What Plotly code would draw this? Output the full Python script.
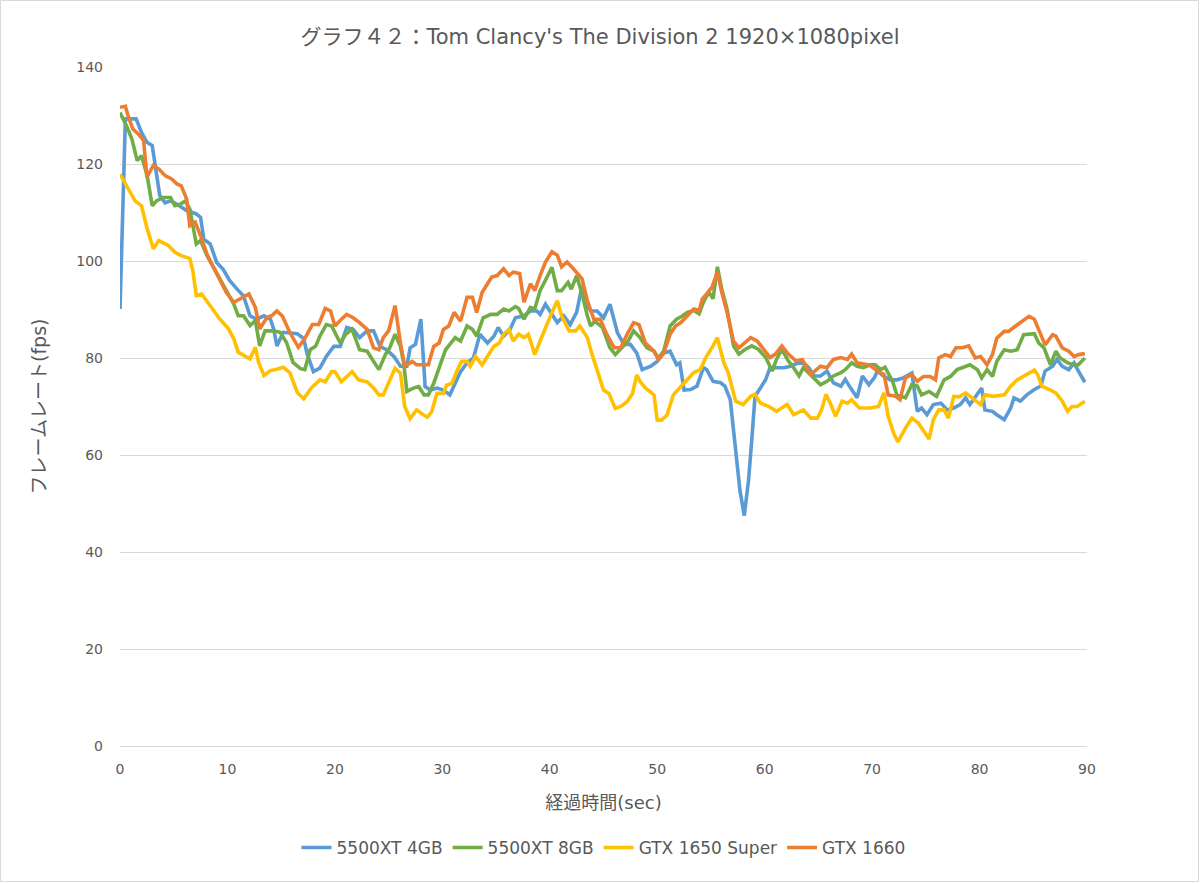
import plotly.graph_objects as go

# ---- data (time in sec, frame rate in fps) ----
t_4gb = [0, 0.5, 1.5, 2, 2.5, 3, 3.7, 4.2, 4.7, 5.3, 6.2, 7.1, 7.5, 7.8, 8.4, 9, 9.6, 10.2, 10.9, 11.5,
         12.1, 12.7, 13.4, 14, 14.3, 14.6, 15.2, 16.5, 17.1, 17.4, 18, 18.6, 19.2, 19.9, 20.5, 21.1, 21.7,
         22.3, 23, 23.6, 24.2, 24.8, 25.5, 26.1, 26.7, 27, 27.5, 28, 28.4, 28.9, 29.5, 30.1, 30.7, 31.2,
         31.7, 32.3, 32.9, 33.5, 34.2, 34.8, 35.2, 35.7, 36.3, 36.8, 37.6, 38.2, 38.8, 39.1, 39.6, 40,
         40.7, 41.3, 41.9, 42.5, 43, 43.5, 43.8, 44.4, 45, 45.6, 46.3, 46.9, 47.5, 48.1, 48.6, 49.4, 50,
         50.6, 51.2, 51.8, 52.1, 52.5, 53.1, 53.7, 54.3, 54.6, 55.2, 55.9, 56.3, 56.8, 57.3, 57.7, 58.1,
         58.5, 58.8, 59.1, 59.6, 60.1, 60.5, 61.1, 61.8, 62.4, 63, 63.6, 64.1, 64.6, 65.2, 65.8, 66.4,
         67.1, 67.5, 68, 68.6, 69.1, 69.7, 70.2, 70.5, 71.1, 71.7, 72.3, 72.9, 73.7, 74.2, 74.6, 75.1,
         75.7, 76.4, 77, 77.6, 78.2, 78.7, 79.1, 79.8, 80.2, 80.5, 81.2, 81.6, 82.3, 82.9, 83.2, 83.8,
         84.4, 85.1, 85.7, 86.1, 86.8, 87.2, 87.7, 88.3, 88.8, 89.2, 89.8]
v_4gb = [90.1, 129.3, 129.3, 126.5, 124.5, 123.8, 113.5, 112, 112.4, 111.7, 110.4, 109.7, 109, 104.5,
         103.5, 99.7, 98.3, 96, 94.2, 92.8, 88.7, 88, 88.7, 88, 86, 82.5, 85.3, 85, 84, 81, 77.2, 77.9,
         80.3, 82.4, 82.4, 86.3, 85.9, 84.2, 85.6, 85.6, 82.4, 81.7, 80.3, 78.3, 78.3, 82.1, 82.8, 88,
         74.1, 73.4, 73.8, 73.4, 72.4, 74.8, 77.2, 79, 80, 84.9, 83.1, 84.5, 86.3, 84.5, 85.9, 88.3, 88.7,
         89.7, 89.7, 89, 91.1, 89.7, 87.3, 88.7, 86.9, 89.4, 94.9, 90.8, 89.7, 89.7, 88.3, 91.1, 85.2,
         82.8, 82.8, 81, 77.6, 78.3, 79.3, 81, 81.4, 78.6, 79, 73.4, 73.5, 74.2, 78, 77.6, 75.2, 74.9,
         74.2, 71.4, 61.7, 52.7, 47.5, 54.8, 63.1, 72.1, 73.8, 75.6, 78, 78, 78, 78.3, 78.9, 79, 78,
         76.3, 76.3, 77.3, 74.9, 74.2, 75.6, 73.8, 71.8, 76.3, 74.5, 75.9, 77.3, 76.2, 75.5, 75.5, 75.9,
         76.9, 69, 69.7, 68.3, 70.4, 70.7, 69.3, 69.7, 70.4, 71.8, 70.4, 72.4, 73.8, 69.3, 69, 68.3,
         67.3, 69.7, 71.8, 71.1, 72.4, 73.5, 74.2, 77.3, 78.3, 79.7, 78.3, 77.6, 79, 77.3, 75]

t_8gb = [0, 0.6, 1.1, 1.6, 2, 2.5, 3, 3.4, 4, 4.7, 5.1, 5.6, 6.1, 6.5, 7.1, 7.5, 8.1, 8.7, 9.3, 9.9,
         10.6, 11, 11.5, 12.1, 12.6, 13, 13.5, 14.3, 14.9, 15.5, 16.1, 16.8, 17.2, 17.7, 18.2, 18.6,
         19.2, 19.7, 20.5, 21, 21.6, 22.3, 23, 23.4, 24.1, 24.7, 25.1, 25.6, 26.1, 26.4, 26.7, 27.3,
         27.8, 28.3, 28.7, 29.2, 29.8, 30.3, 30.7, 31.2, 31.7, 32.3, 32.8, 33.2, 33.8, 34.5, 35.1, 35.7,
         36.2, 36.8, 37.1, 37.6, 38.2, 38.6, 39.1, 39.6, 40.2, 40.7, 41.1, 41.7, 42, 42.5, 43, 43.5,
         43.8, 44.2, 44.9, 45.6, 46.1, 46.7, 47.3, 47.8, 48.4, 49.05, 49.7, 50.1, 50.6, 51.2, 51.8,
         52.3, 52.8, 53.4, 53.9, 54.3, 54.8, 55.2, 55.6, 56, 56.5, 57.1, 57.6, 58.2, 58.8, 59.4, 60.1,
         60.7, 61.1, 61.6, 62.2, 62.7, 63.2, 63.6, 64.2, 64.7, 65.2, 65.8, 66.4, 67.1, 67.5, 68.1, 68.6,
         69.2, 69.8, 70.3, 70.8, 71.2, 71.9, 72.3, 73.1, 73.7, 74.2, 74.6, 75.3, 76, 76.7, 77.3, 77.9,
         78.5, 79.1, 79.8, 80.2, 80.7, 81.2, 81.6, 82.3, 82.9, 83.5, 84.1, 85.1, 85.5, 86, 86.6, 87.1,
         87.5, 88.2, 88.8, 89.2, 89.8]
v_8gb = [130.6, 127.9, 125.2, 120.7, 121.7, 117.9, 111.4, 112.4, 113.1, 113.1, 111.4, 111.7, 112.4,
         110.7, 103.5, 104.2, 101.1, 98.7, 96.6, 94.2, 91.1, 88.7, 88.7, 86.7, 87.7, 82.5, 85.6, 85.6,
         85.3, 83.2, 79.1, 77.8, 77.6, 81.7, 82.4, 84.5, 86.9, 86.6, 83.1, 84.9, 85.9, 81.7, 81.4, 80,
         77.6, 80.7, 82.1, 84.9, 82.4, 79, 73.1, 73.8, 74.1, 72.4, 72.4, 74.8, 78.3, 81.7, 82.8, 84.2,
         83.5, 86.6, 85.9, 84.5, 88.3, 89, 89, 90.1, 89.7, 90.6, 90.2, 88, 90.4, 90.1, 93.9, 96, 98.7,
         93.9, 93.9, 95.6, 94.2, 97, 93.2, 88.7, 86.6, 87.6, 86.3, 82.1, 80.7, 82.1, 83.5, 85.6, 84.2,
         82.1, 81.4, 80, 81.4, 86.6, 88, 88.6, 89.4, 89.8, 89.1, 91.5, 93.6, 92.2, 98.8, 94.3, 90.1,
         82.5, 80.8, 81.8, 82.5, 81.8, 80.1, 77.3, 79.7, 81.8, 79.4, 78, 76.3, 78, 76.6, 75.6, 74.5,
         75.2, 76.3, 77, 77.6, 79, 78.3, 78, 78.6, 78.6, 77.6, 78.1, 75.2, 72.4, 71.8, 74.5, 74.2, 72.4,
         73.1, 72.1, 75.5, 76.2, 77.6, 78.1, 78.6, 77.6, 75.9, 77.6, 76.2, 79.3, 81.7, 81.4, 81.7, 84.8,
         85, 83.1, 82.1, 78.6, 81.4, 80, 79, 78.6, 78.6, 80]

t_1650s = [0, 0.6, 1.4, 2, 2.5, 3.1, 3.6, 4.5, 5.1, 5.7, 6.5, 6.8, 7.1, 7.6, 8.4, 9.3, 10.1, 10.6, 11,
           11.8, 12.1, 12.6, 12.9, 13.4, 14, 14.6, 15.2, 15.8, 16.5, 17.1, 17.8, 18.6, 19.1, 19.7, 20,
           20.6, 21.6, 22.2, 23, 23.6, 24.1, 24.5, 25, 25.6, 26.1, 26.5, 27, 27.6, 28.1, 28.6, 29, 29.5,
           30.1, 30.4, 30.9, 31.4, 31.8, 32.3, 32.6, 33.1, 33.7, 34.2, 34.8, 35.3, 35.7, 36.2, 36.6,
           37.1, 37.6, 38, 38.6, 39.1, 39.7, 40.2, 40.7, 41.1, 41.8, 42.4, 42.8, 43.5, 43.9, 44.4, 45,
           45.5, 46.1, 46.6, 47.2, 47.7, 48.1, 48.4, 48.9, 49.7, 50, 50.4, 50.9, 51.5, 52.2, 52.8,
           53.4, 54, 54.6, 55.2, 55.6, 56.2, 56.6, 57.3, 58, 58.7, 59.1, 59.6, 60.4, 61.1, 62.1, 62.7,
           63.6, 64.3, 64.9, 65.3, 65.7, 66.1, 66.6, 67.2, 67.7, 68.1, 68.8, 69.8, 70.6, 71.1, 71.5,
           72, 72.4, 73.2, 73.7, 74.3, 74.8, 75.3, 75.7, 76.2, 76.7, 77.1, 77.6, 78.1, 78.7, 79.3,
           80.1, 80.5, 81.3, 82.3, 82.9, 83.5, 84.3, 85.1, 85.4, 85.8, 86.5, 87.1, 87.7, 88.2, 88.6,
           89.1, 89.8]
v_1650s = [117.9, 115.5, 112.4, 111.4, 106.9, 102.5, 104.2, 103.2, 101.8, 101.1, 100.5, 97.7, 92.9,
           93.2, 90.8, 88, 86, 83.9, 81.2, 80.1, 79.8, 82.2, 79.1, 76.4, 77.4, 77.7, 78.1, 77, 72.9,
           71.6, 73.8, 75.5, 75.1, 77.2, 77.2, 75.1, 77.2, 75.5, 75.1, 73.8, 72.4, 72.4, 74.8, 77.9,
           76.9, 70, 67.5, 69.3, 68.5, 67.8, 68.9, 72.7, 72.7, 74.4, 74.8, 77.6, 79.3, 79.3, 78.3, 80.3,
           78.6, 80.3, 82.4, 83.1, 84.9, 85.9, 83.5, 84.9, 84.2, 84.9, 80.7, 83.5, 86.9, 89.4, 91.8,
           88.7, 85.6, 85.6, 86.6, 84.2, 81, 77.6, 73.4, 72.7, 69.6, 70, 71, 72.7, 76.5, 75.2, 73.8,
           72.4, 67.2, 67.2, 68.2, 72.4, 74.1, 75.6, 77, 77.6, 80.4, 82.5, 84.2, 79, 77, 71.1, 70.4,
           72.1, 72.5, 70.7, 70, 69, 70.4, 68.3, 69.3, 67.6, 67.6, 69.3, 72.5, 70.7, 68, 71.1, 70.7,
           71.4, 69.7, 69.7, 70, 72.8, 68, 64.5, 62.7, 65.9, 67.6, 66.6, 64.9, 63.3, 67.3, 69.3, 69.3,
           67.6, 72.1, 72, 72.8, 71.8, 70.4, 72.4, 72.1, 72.4, 74.2, 75.5, 76.6, 77.5, 76.6, 74.2,
           73.5, 72.8, 71.1, 69, 70, 70, 71.1]

t_1660 = [0, 0.5, 0.8, 1.2, 1.7, 2.2, 2.5, 3.1, 3.6, 4.2, 4.8, 5.3, 5.7, 6.2, 6.5, 7, 7.5, 8.1, 8.7,
          9.3, 9.9, 10.6, 11.2, 12, 12.6, 13, 13.7, 14.1, 14.6, 15.1, 15.8, 16.6, 17.2, 17.9, 18.5,
          19.1, 19.6, 20, 20.6, 21.1, 21.7, 22.3, 23, 23.6, 24.1, 24.5, 25, 25.6, 26.1, 26.5, 27.2,
          27.6, 28.3, 28.7, 29.2, 29.7, 30.1, 30.6, 31.1, 31.7, 32.3, 32.8, 33.2, 33.7, 34.2, 34.6,
          35.1, 35.7, 36.2, 36.6, 37.2, 37.6, 38.2, 38.6, 39.1, 39.6, 40.2, 40.7, 41.1, 41.6, 42.2,
          43, 43.5, 44.1, 44.7, 45.3, 46, 46.6, 47.2, 47.8, 48.3, 48.9, 49.7, 50.1, 50.6, 51.2, 51.7,
          52.2, 52.8, 53.4, 53.9, 54.2, 54.6, 55.1, 55.6, 56, 56.5, 57.1, 57.6, 58.2, 58.7, 59.3,
          59.9, 60.5, 61, 61.6, 62.2, 62.9, 63.5, 64.3, 65.2, 65.8, 66.4, 67.1, 67.7, 68.1, 68.6,
          69.2, 69.8, 70.5, 71.1, 71.5, 72.2, 72.6, 73.1, 73.7, 74.2, 74.8, 75.4, 75.9, 76.2, 76.8,
          77.3, 77.8, 78.4, 79, 79.6, 80.1, 80.7, 81.2, 81.6, 82.3, 82.7, 83.3, 84, 84.6, 85.1, 85.5,
          86.1, 86.8, 87.1, 87.7, 88.3, 88.8, 89.2, 89.8]
v_1660 = [131.7, 131.9, 129.6, 127.2, 126.2, 124.8, 117.3, 119.7, 119, 117.6, 116.9, 115.9, 115.5,
          112.8, 107.3, 108, 105.2, 101.4, 98.7, 95.9, 93.5, 91.5, 92.2, 93.2, 90.4, 86, 88.4, 88.7,
          89.7, 88.7, 85.3, 82.2, 84, 86.9, 86.9, 90.2, 89.7, 86.6, 88, 89, 88.3, 87.3, 85.9, 82.1,
          81.7, 84.2, 85.6, 90.8, 83.1, 78.3, 79.3, 78.6, 78.6, 78.6, 82.4, 83.1, 85.9, 86.6, 89.4,
          87.6, 92.5, 92.5, 89.4, 93.5, 95.3, 96.7, 97, 98.4, 97, 97.7, 97.4, 91.5, 95.3, 93.9, 97,
          99.8, 101.9, 101.2, 98.8, 99.8, 98.4, 96.3, 91.8, 88, 88, 84.9, 82.1, 82.1, 84.9, 87.3, 86.9,
          83.1, 81.4, 79.7, 81, 84.9, 86.6, 87.3, 88.7, 90.1, 89.8, 92.2, 93.2, 94.6, 97.7, 93.6, 89.4,
          83.5, 82.1, 83.2, 84.2, 83.5, 81.8, 80.1, 80.8, 82.5, 80.8, 79.4, 79.7, 76.6, 78.3, 78, 79.7,
          80.1, 79.7, 80.8, 79, 78.7, 78.5, 77.3, 76.6, 72.4, 72.1, 71.4, 75.9, 76.6, 75.2, 76.2,
          76.2, 75.5, 80, 80.7, 80.3, 82.1, 82.1, 82.5, 80, 80.3, 78.6, 80.7, 84.1, 85.5, 85.5, 86.5,
          87.6, 88.6, 88, 85.8, 82.7, 84.8, 84.5, 82.1, 81.4, 80.3, 80.7, 80.9]

series_names = ["5500XT 4GB", "5500XT 8GB", "GTX 1650 Super", "GTX 1660"]
series_colors = ["#5B9BD5", "#70AD47", "#FFC000", "#ED7D31"]
series_t = [t_4gb, t_8gb, t_1650s, t_1660]
series_v = [v_4gb, v_8gb, v_1650s, v_1660]

x_ticks = [0, 10, 20, 30, 40, 50, 60, 70, 80, 90]
y_ticks = [0, 20, 40, 60, 80, 100, 120, 140]

FONT = "DejaVu Sans, Noto Sans CJK JP, sans-serif"
GRAY = "#595959"

fig = go.Figure()
for name, color, tt, vv in zip(series_names, series_colors, series_t, series_v):
    fig.add_trace(go.Scatter(x=tt, y=vv, mode="lines", name=name,
                             line=dict(color=color, width=3.6)))

W, H = 1200, 883
ml, mr, mt, mb = 120, 113, 67, 137
pw, ph = W - ml - mr, H - mt - mb

fig.update_layout(
    width=W, height=H,
    margin=dict(l=ml, r=mr, t=mt, b=mb),
    paper_bgcolor="white", plot_bgcolor="white",
    font=dict(family=FONT, color=GRAY, size=14),
    title=dict(text="グラフ４２：Tom Clancy's The Division 2 1920×1080pixel",
               x=0.5, xanchor="center", y=1 - 37 / H, yanchor="middle",
               font=dict(size=21, color=GRAY, family=FONT)),
    xaxis=dict(range=[0, 90], tickvals=x_ticks, showgrid=False, zeroline=False,
               showline=True, linecolor="#D9D9D9", linewidth=1,
               ticks="", ticklabelstandoff=10, tickfont=dict(size=14, color=GRAY),
               title=dict(text="経過時間(sec)", font=dict(size=18, color=GRAY), standoff=20)),
    yaxis=dict(range=[0, 140], tickvals=y_ticks, showgrid=True, gridcolor="#D9D9D9", gridwidth=1,
               zeroline=False, showline=False, ticks="", ticklabelstandoff=16,
               tickfont=dict(size=14, color=GRAY),
               title=dict(text="フレームレート(fps)", font=dict(size=19, color=GRAY), standoff=24)),
    legend=dict(orientation="h", x=0.5, xanchor="center", y=-(848 - (H - mb)) / ph, yanchor="middle",
                font=dict(size=17, color=GRAY), itemwidth=30, traceorder="normal"),
    shapes=[dict(type="rect", xref="paper", yref="paper",
                 x0=-(ml - 0.5) / pw, x1=1 + (mr - 1.5) / pw,
                 y0=-(mb - 1.5) / ph, y1=1 + (mt - 0.5) / ph,
                 line=dict(color="#D9D9D9", width=1), fillcolor="rgba(0,0,0,0)", layer="below")],
)

fig.write_html("out.html", config={"displayModeBar": False},
               post_script="document.body.style.margin='0';document.body.style.overflow='hidden';")
